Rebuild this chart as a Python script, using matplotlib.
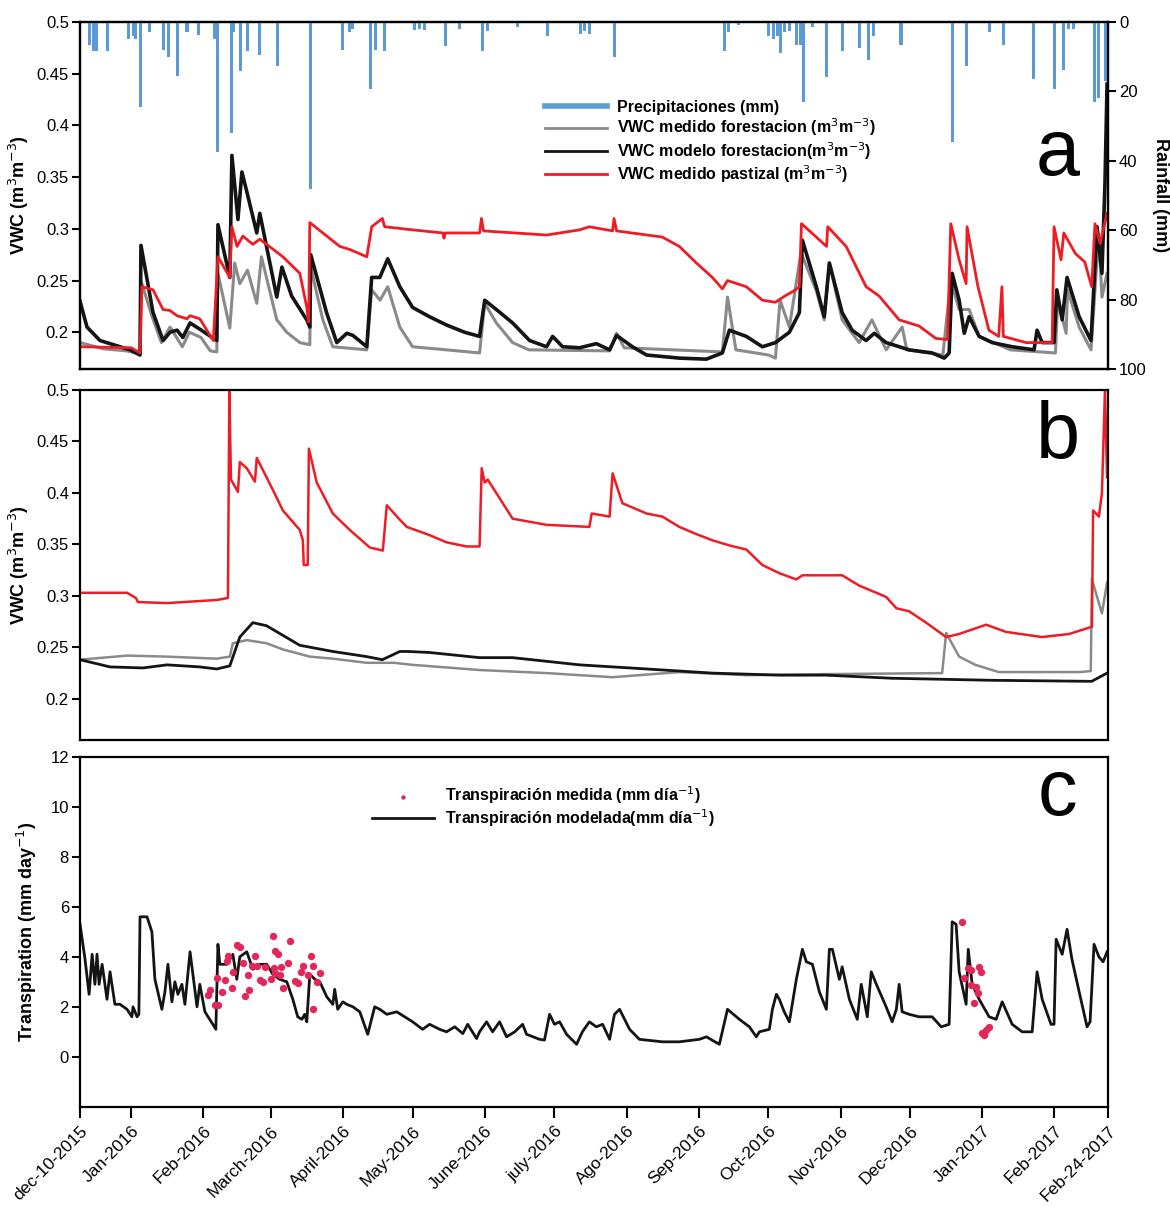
import datetime as dt
import numpy as np
import matplotlib
matplotlib.use("Agg")
import matplotlib.pyplot as plt
import matplotlib.dates as mdates
from matplotlib.lines import Line2D

plt.rcParams["font.family"] = ["Liberation Sans", "DejaVu Sans"]

# -----------------------------
# Data (day offsets from 10-Dec-2015)
# -----------------------------
start = dt.date(2015, 12, 10)

rain = [(4, 6.5), (6, 8.5), (7, 8.5), (12, 8.5), (21, 5), (23, 4), (24, 5), (26, 24.5),
        (30, 3), (36, 8), (38, 10), (42, 15.6), (46, 3), (51, 3.7), (58, 5), (59, 37.5),
        (65, 32), (66, 3), (69, 14), (72, 8.5), (77, 9.4), (85, 12.7), (99, 48), (113, 8),
        (116, 3), (117, 2), (125, 19.4), (127, 8), (131, 8.5), (144, 2.3), (146, 2),
        (148, 2.3), (157, 7), (163, 2), (173, 8.5), (175, 2.5), (188, 1.5), (201, 4),
        (215, 3.5), (217, 2.5), (219, 3.5), (230, 10), (277, 8.5), (279, 3), (283, 1),
        (296, 4), (298, 5), (300, 4), (301, 9), (303, 3), (305, 2.5), (308, 6.5), (310, 6.5),
        (311, 23), (315, 1.5), (321, 16), (328, 8.5), (335, 7.5), (339, 11), (341, 4),
        (353, 6.5), (375, 34.5), (381, 12.7), (391, 3), (397, 6.5), (410, 16.5), (419, 19.4),
        (423, 13.7), (425, 2), (427, 2), (436, 23), (438, 22), (441, 17)]

a_medido_forest = [(0, 0.19), (10, 0.184), (20, 0.182), (25.8, 0.179), (26.2, 0.25), (31, 0.215),
                   (35, 0.19), (38.7, 0.205), (44, 0.186), (47, 0.2), (52, 0.195), (56, 0.182),
                   (58.8, 0.181), (59.3, 0.257), (64.4, 0.204), (66.5, 0.267), (68.7, 0.247),
                   (72, 0.26), (76, 0.228), (78, 0.273), (84.6, 0.212), (88.9, 0.2), (94.5, 0.19),
                   (98.8, 0.188), (99.2, 0.263), (104.4, 0.212), (108.7, 0.186), (123.3, 0.183),
                   (125.4, 0.241), (129, 0.231), (132.3, 0.244), (137.5, 0.205), (143, 0.186),
                   (157.6, 0.183), (171.8, 0.18), (174, 0.228), (179, 0.209), (186, 0.19),
                   (193, 0.183), (227.7, 0.182), (230.7, 0.199), (234, 0.185), (276.2, 0.181),
                   (278.4, 0.234), (282, 0.183), (296, 0.178), (299, 0.175), (301, 0.231),
                   (305, 0.205), (310, 0.277), (316.6, 0.24), (320, 0.212), (322.2, 0.267),
                   (327.7, 0.212), (335, 0.19), (340.5, 0.212), (346.6, 0.183), (353.5, 0.205),
                   (355.5, 0.183), (371, 0.178), (374.4, 0.25), (378, 0.222), (382.3, 0.222),
                   (386.6, 0.196), (400, 0.183), (419.4, 0.18), (420.4, 0.231), (424, 0.199),
                   (424.6, 0.241), (429.6, 0.205), (434.7, 0.183), (438, 0.295), (439.4, 0.234),
                   (441.6, 0.257)]

a_modelo_forest = [(0, 0.23), (3, 0.205), (8.6, 0.192), (21.5, 0.183), (25.8, 0.178), (26.2, 0.284),
                   (31.4, 0.219), (35.7, 0.192), (38.7, 0.2), (41.7, 0.202), (44.2, 0.195),
                   (47.3, 0.209), (51.5, 0.203), (58.8, 0.192), (59.3, 0.304), (64.4, 0.253),
                   (65.3, 0.371), (67.9, 0.309), (69.6, 0.355), (71.7, 0.336), (76, 0.296),
                   (77.3, 0.315), (84.6, 0.234), (86.8, 0.263), (91, 0.235), (97.5, 0.212),
                   (98.8, 0.205), (99.2, 0.275), (106, 0.219), (110.4, 0.19), (114.7, 0.199),
                   (117.3, 0.197), (123.3, 0.186), (125.4, 0.253), (128.9, 0.253), (132.3, 0.271),
                   (137.5, 0.244), (143, 0.224), (150.3, 0.215), (157.6, 0.207), (165.4, 0.2),
                   (171.8, 0.196), (174, 0.231), (179, 0.222), (186, 0.209), (193.3, 0.192),
                   (200.6, 0.186), (203.2, 0.196), (207.5, 0.186), (214.8, 0.185), (222, 0.189),
                   (227.7, 0.183), (230.7, 0.197), (237.5, 0.186), (243.6, 0.178), (257.7, 0.175),
                   (269.3, 0.174), (276.2, 0.18), (279.2, 0.202), (286.5, 0.196), (293.4, 0.186),
                   (299, 0.19), (305, 0.2), (309.3, 0.219), (310.6, 0.289), (316.6, 0.244),
                   (320, 0.215), (322.2, 0.267), (327.7, 0.219), (332, 0.202), (338, 0.192),
                   (341.5, 0.199), (346.6, 0.19), (356.5, 0.183), (366.4, 0.18), (371.6, 0.175),
                   (373.7, 0.18), (375, 0.257), (378, 0.231), (380.2, 0.199), (382.3, 0.215),
                   (386.6, 0.196), (392.2, 0.19), (400.8, 0.186), (410.2, 0.183), (411.5, 0.202),
                   (413.7, 0.19), (418.8, 0.19), (420, 0.241), (422.3, 0.212), (424.4, 0.253),
                   (429.6, 0.215), (434.7, 0.192), (437.3, 0.302), (439.4, 0.257), (440.7, 0.344),
                   (441.6, 0.44)]

a_medido_pastizal = [(0, 0.186), (22, 0.185), (25.8, 0.18), (26.6, 0.244), (31.4, 0.241),
                     (35.7, 0.222), (38.7, 0.221), (41.7, 0.216), (46, 0.213), (47.3, 0.216),
                     (51.5, 0.213), (57.3, 0.192), (59.3, 0.273), (64.4, 0.253), (65.3, 0.302),
                     (67.5, 0.283), (70, 0.293), (74.3, 0.285), (77.3, 0.29), (87.2, 0.273),
                     (94.5, 0.257), (97.5, 0.224), (98.3, 0.21), (98.8, 0.306), (111.7, 0.283),
                     (116, 0.28), (123.3, 0.273), (125.4, 0.302), (130, 0.31), (131, 0.302),
                     (143, 0.299), (156, 0.296), (156.5, 0.291), (157, 0.296), (171.8, 0.296),
                     (172.6, 0.31), (173.5, 0.298), (200.6, 0.294), (214.8, 0.299), (219, 0.302),
                     (229, 0.298), (229.6, 0.31), (230.7, 0.298), (250.4, 0.292), (257.7, 0.283),
                     (265, 0.267), (271.9, 0.253), (276.2, 0.242), (278.4, 0.25), (286.5, 0.244),
                     (293.4, 0.231), (299, 0.229), (303, 0.235), (307, 0.24), (309.3, 0.244),
                     (310.2, 0.305), (321, 0.283), (321.5, 0.302), (329.4, 0.283), (338, 0.244),
                     (343.6, 0.235), (352.2, 0.212), (360.8, 0.206), (368, 0.194), (373, 0.193),
                     (374.4, 0.305), (378, 0.27), (381, 0.247), (381.4, 0.302), (386, 0.245),
                     (390.8, 0.202), (395, 0.196), (396.4, 0.244), (397, 0.196), (406.8, 0.19),
                     (418, 0.19), (418.8, 0.302), (421.8, 0.27), (423, 0.296), (428, 0.276),
                     (432, 0.268), (435, 0.244), (436.4, 0.305), (438.6, 0.286), (441.6, 0.315)]

b_medido_forest = [(0, 0.238), (20.2, 0.242), (37.4, 0.241), (58.8, 0.239), (64.4, 0.241),
                   (65.7, 0.254), (71.7, 0.257), (80.2, 0.254), (87.2, 0.248), (98.8, 0.241),
                   (108.7, 0.239), (123.3, 0.235), (135, 0.235), (143, 0.233), (171.8, 0.228),
                   (200.6, 0.225), (229, 0.221), (257.7, 0.226), (286.5, 0.223), (320.8, 0.224),
                   (370.7, 0.225), (372.4, 0.264), (378, 0.241), (385, 0.233), (395, 0.226),
                   (430, 0.226), (434.6, 0.227), (435.1, 0.316), (439.4, 0.283), (441.6, 0.313)]

b_modelo_forest = [(0, 0.238), (12.9, 0.231), (27, 0.23), (37.4, 0.233), (51.5, 0.231),
                   (58.8, 0.229), (64.4, 0.232), (68.7, 0.26), (74.3, 0.274), (80.2, 0.271),
                   (94.5, 0.252), (108.7, 0.246), (123.3, 0.241), (130, 0.238), (137.5, 0.246),
                   (141, 0.246), (150.3, 0.245), (171.8, 0.24), (186, 0.24), (214.8, 0.233),
                   (243.6, 0.229), (271.9, 0.225), (300.7, 0.223), (320.8, 0.223), (349, 0.22),
                   (392, 0.218), (435, 0.217), (441.6, 0.225)]

b_medido_pastizal = [(0, 0.303), (20.2, 0.303), (24, 0.298), (24.9, 0.294), (37.4, 0.293),
                     (58.8, 0.296), (63.6, 0.298), (64.2, 0.5), (64.9, 0.413), (67.9, 0.401),
                     (68.7, 0.43), (71.7, 0.424), (75.2, 0.411), (76, 0.434), (82.9, 0.403),
                     (87.2, 0.383), (94.5, 0.364), (95.8, 0.354), (96.2, 0.33), (97.9, 0.33),
                     (98.4, 0.443), (101.8, 0.41), (108.7, 0.38), (116, 0.364), (124.6, 0.347),
                     (130.2, 0.344), (131.9, 0.388), (137.5, 0.374), (140.5, 0.367), (150.3, 0.359),
                     (157.6, 0.352), (166.2, 0.348), (171.8, 0.348), (172.7, 0.424), (174, 0.41),
                     (175.3, 0.413), (186, 0.375), (200.6, 0.369), (219, 0.367), (220, 0.38),
                     (227.7, 0.377), (229, 0.419), (233.2, 0.39), (243.6, 0.38), (250.4, 0.377),
                     (257.7, 0.367), (265, 0.36), (271.9, 0.354), (279.2, 0.349), (286.5, 0.345),
                     (293.4, 0.33), (300.7, 0.322), (308, 0.316), (310.6, 0.32), (327.7, 0.32),
                     (335, 0.31), (346.6, 0.299), (351, 0.288), (356.5, 0.285), (363.8, 0.274),
                     (372.4, 0.26), (378, 0.263), (389.6, 0.272), (398.2, 0.265), (413.7, 0.26),
                     (425.3, 0.263), (435.1, 0.27), (435.6, 0.383), (438.1, 0.377), (439.4, 0.4),
                     (440.7, 0.5), (441.6, 0.415)]

c_modelada = [(0, 5.3), (2.1, 3.94), (3.9, 2.5), (5.2, 4.1), (6.4, 2.9), (7.3, 4.1), (8.2, 2.9),
              (9.5, 3.7), (11.6, 2.3), (12.9, 3.4), (15, 2.1), (17.2, 2.1), (20.2, 1.9), (22.3, 1.6),
              (22.8, 2.0), (24.5, 1.6), (25.3, 1.7), (25.8, 5.6), (28.8, 5.6), (30.9, 5.0),
              (32.2, 3.1), (35.2, 1.9), (36.5, 2.6), (37.8, 3.7), (39.5, 2.2), (40.8, 3.0),
              (42.1, 2.5), (43.8, 2.9), (45.1, 2.1), (47.3, 4.2), (50.3, 2.0), (51.5, 2.9),
              (53.7, 1.8), (57.1, 1.3), (58.4, 1.1), (59.3, 4.5), (60.1, 3.7), (63.1, 3.7),
              (65.7, 4.1), (67.4, 3.1), (68.7, 4.0), (71.7, 4.2), (74.3, 3.5), (77.3, 3.7),
              (80.3, 3.7), (82.9, 3.3), (85.9, 3.1), (88.9, 3.0), (91.5, 2.3), (93.6, 1.6),
              (95.4, 1.5), (96.6, 1.7), (97.5, 1.4), (98.8, 3.3), (101, 3.1), (103.1, 3.0),
              (106.1, 2.4), (108.7, 2.1), (109.5, 2.7), (110.8, 1.9), (113, 2.2), (114.7, 2.1),
              (117.3, 2.0), (120.3, 1.8), (123.7, 0.9), (126.7, 2.0), (128.9, 1.9), (131.9, 1.7),
              (136.2, 1.8), (143, 1.4), (147.3, 1.1), (150.3, 1.3), (154.6, 1.1), (157.6, 1.0),
              (161.1, 1.2), (164.6, 0.93), (166.7, 1.3), (170.5, 0.73), (171.8, 1.0), (174.8, 1.4),
              (177.4, 1.0), (180.4, 1.4), (183.4, 0.8), (186.9, 1.0), (190.3, 1.3), (192, 0.9),
              (197.6, 0.7), (199.7, 0.67), (201.9, 1.7), (204, 1.3), (206.2, 1.4), (209.2, 0.9),
              (213.5, 0.5), (216, 1.0), (219, 1.4), (222, 1.2), (224.7, 1.3), (227.7, 0.7),
              (229.8, 1.7), (232, 1.9), (236.3, 1.1), (240.5, 0.7), (250.4, 0.6), (257.7, 0.6),
              (266.3, 0.7), (269.3, 0.8), (274.9, 0.5), (278.4, 1.9), (283.5, 1.5), (287.8, 1.2),
              (290.8, 0.8), (292.1, 1.0), (296.4, 1.1), (297.7, 1.9), (299.4, 2.5), (300.7, 2.3),
              (302.8, 1.8), (305, 1.4), (308, 3.1), (310.6, 4.3), (312.3, 3.8), (314.9, 3.7),
              (317.9, 2.6), (320.9, 1.9), (322.2, 4.3), (323.5, 4.3), (326.5, 3.1), (327.7, 3.6),
              (330.8, 2.3), (334.2, 1.5), (335.9, 2.9), (338.5, 1.6), (340.2, 3.4), (342.4, 2.9),
              (346.6, 2.0), (349.2, 1.4), (351, 1.9), (352.2, 2.9), (353.5, 1.8), (356.5, 1.7),
              (360.8, 1.6), (366.4, 1.6), (370.3, 1.2), (373.7, 1.3), (375, 5.4), (376.7, 5.3),
              (378, 3.4), (381, 2.1), (381.9, 4.3), (383.6, 2.9), (386.6, 2.3), (390.9, 1.6),
              (393.9, 1.5), (396.5, 2.2), (400.8, 1.3), (405.1, 1.0), (409.4, 1.0), (411.5, 3.4),
              (413.7, 2.3), (417.5, 1.3), (418.8, 1.3), (419.7, 4.7), (422.3, 4.1), (424.4, 5.1),
              (426.5, 3.9), (429.6, 2.6), (433, 1.2), (434.3, 1.4), (436, 4.5), (438.1, 4.0),
              (439.9, 3.8), (441.6, 4.2)]

c_medida = [(83.0, 4.82), (90.2, 4.65), (67.3, 4.49), (68.7, 4.38), (83.8, 4.24), (85.2, 4.11),
            (63.7, 4.02), (75.2, 4.02), (99.2, 4.02), (63.0, 3.82), (70.1, 3.75), (73.8, 3.65),
            (75.9, 3.65), (79.5, 3.61), (83.3, 3.55), (86.6, 3.61), (89.5, 3.75), (95.9, 3.65),
            (100.2, 3.65), (65.9, 3.41), (72.3, 3.28), (83.8, 3.35), (85.9, 3.28), (95.2, 3.41),
            (98.1, 3.28), (103.1, 3.35), (58.7, 3.14), (62.3, 3.08), (77.3, 3.08), (78.7, 2.98),
            (82.3, 3.12), (92.4, 3.04), (93.8, 2.94), (101.7, 3.01), (65.2, 2.77), (72.5, 2.68),
            (55.8, 2.68), (60.9, 2.61), (87.3, 2.74), (70.9, 2.45), (55.1, 2.48), (58.0, 2.08),
            (59.4, 2.08), (100.2, 1.92),
            (379.4, 5.38), (381.6, 3.55), (383.0, 3.48), (386.6, 3.61), (387.3, 3.41),
            (380.1, 3.14), (383.0, 2.88), (385.2, 2.81), (385.9, 2.54), (384.5, 2.14),
            (389.5, 1.07), (388.7, 0.87), (390.9, 1.2), (388.0, 0.94)]

tick_dates = [dt.date(2015, 12, 10), dt.date(2016, 1, 1), dt.date(2016, 2, 1), dt.date(2016, 3, 1),
              dt.date(2016, 4, 1), dt.date(2016, 5, 1), dt.date(2016, 6, 1), dt.date(2016, 7, 1),
              dt.date(2016, 8, 1), dt.date(2016, 9, 1), dt.date(2016, 10, 1), dt.date(2016, 11, 1),
              dt.date(2016, 12, 1), dt.date(2017, 1, 1), dt.date(2017, 2, 1), dt.date(2017, 2, 24)]
tick_labels = ["dec-10-2015", "Jan-2016", "Feb-2016", "March-2016", "April-2016", "May-2016",
               "June-2016", "july-2016", "Ago-2016", "Sep-2016", "Oct-2016", "Nov-2016",
               "Dec-2016", "Jan-2017", "Feb-2017", "Feb-24-2017"]

# -----------------------------
# Helpers
# -----------------------------
t0 = mdates.date2num(start)


def xy(pairs):
    arr = np.array(pairs, dtype=float)
    return t0 + arr[:, 0], arr[:, 1]


GRAY = "#8a8a8a"
BLACK = "#141414"
RED = "#ee1c25"
BLUE = "#5b9bd5"
PINK = "#e3275a"

xmin = t0
xmax = mdates.date2num(dt.date(2017, 2, 24))


def style(ax, yticks, ylabels):
    for s in ax.spines.values():
        s.set_linewidth(1.6)
    ax.set_xlim(xmin, xmax)
    ax.set_yticks(yticks)
    ax.set_yticklabels(ylabels)
    ax.tick_params(axis="y", direction="out", length=6, width=1.5, labelsize=12, pad=2)
    ax.tick_params(axis="x", bottom=False, labelbottom=False)


fig = plt.figure(figsize=(11.7, 12.07), dpi=100)
ax_a = fig.add_axes([0.0684, 0.6943, 0.8786, 0.2875])
ax_b = fig.add_axes([0.0684, 0.3869, 0.8786, 0.2900])
ax_c = fig.add_axes([0.0684, 0.0830, 0.8786, 0.2900])

vwc_ticks = [0.2, 0.25, 0.3, 0.35, 0.4, 0.45, 0.5]
vwc_labels = ["0.2", "0.25", "0.3", "0.35", "0.4", "0.45", "0.5"]

# -----------------------------
# Panel a
# -----------------------------
x, y = xy(a_medido_forest)
ax_a.plot(x, y, color=GRAY, lw=2.2)
x, y = xy(a_modelo_forest)
ax_a.plot(x, y, color=BLACK, lw=2.6)
x, y = xy(a_medido_pastizal)
ax_a.plot(x, y, color=RED, lw=2.0)
ax_a.set_ylim(0.1645, 0.5)
style(ax_a, vwc_ticks, vwc_labels)
ax_a.set_ylabel(r"VWC (m$^{3}$m$^{-3}$)", fontsize=13, fontweight="bold", labelpad=4)

ax_r = ax_a.twinx()
x, y = xy(rain)
ax_r.bar(x, y, width=1.3, color=BLUE, align="center")
ax_r.set_ylim(100, 0)
ax_r.set_xlim(xmin, xmax)
ax_r.set_yticks([0, 20, 40, 60, 80, 100])
ax_r.tick_params(axis="y", direction="out", length=6, width=1.5, labelsize=12, pad=2)
for s in ax_r.spines.values():
    s.set_linewidth(1.6)
ax_r.set_ylabel("Rainfall (mm)", fontsize=13, fontweight="bold", rotation=270, labelpad=16)

handles_a = [Line2D([], [], color=BLUE, lw=4),
             Line2D([], [], color=GRAY, lw=2),
             Line2D([], [], color=BLACK, lw=2),
             Line2D([], [], color=RED, lw=2)]
labels_a = ["Precipitaciones (mm)",
            r"VWC medido forestacion (m$^{3}$m$^{-3}$)",
            r"VWC modelo forestacion(m$^{3}$m$^{-3}$)",
            r"VWC medido pastizal (m$^{3}$m$^{-3}$)"]
ax_r.legend(handles_a, labels_a, loc="upper left", bbox_to_anchor=(0.452, 0.775),
            frameon=False, borderpad=0, borderaxespad=0, handlelength=3.9,
            handletextpad=0.6, labelspacing=0.1,
            prop={"size": 11.5, "weight": "bold"})
ax_a.text(0.951, 0.559, "a", transform=ax_a.transAxes, fontsize=57, ha="center", va="baseline")

# -----------------------------
# Panel b
# -----------------------------
x, y = xy(b_medido_forest)
ax_b.plot(x, y, color=GRAY, lw=1.8)
x, y = xy(b_modelo_forest)
ax_b.plot(x, y, color=BLACK, lw=2.0)
x, y = xy(b_medido_pastizal)
ax_b.plot(x, y, color=RED, lw=1.8)
ax_b.set_ylim(0.16, 0.5)
style(ax_b, vwc_ticks, vwc_labels)
ax_b.set_ylabel(r"VWC (m$^{3}$m$^{-3}$)", fontsize=13, fontweight="bold", labelpad=4)
ax_b.text(0.951, 0.806, "b", transform=ax_b.transAxes, fontsize=57, ha="center", va="baseline")

# -----------------------------
# Panel c
# -----------------------------
x, y = xy(c_modelada)
ax_c.plot(x, y, color=BLACK, lw=2.0, label=r"Transpiración modelada(mm día$^{-1}$)")
x, y = xy(c_medida)
ax_c.scatter(x, y, s=28, color=PINK, zorder=3, linewidths=0,
             label=r"Transpiración medida (mm día$^{-1}$)")
ax_c.set_ylim(-2, 12)
style(ax_c, [0, 2, 4, 6, 8, 10, 12], ["0", "2", "4", "6", "8", "10", "12"])
ax_c.set_ylabel(r"Transpiration (mm day$^{-1}$)", fontsize=13, fontweight="bold", labelpad=8)
ax_c.set_xticks([mdates.date2num(d) for d in tick_dates])
ax_c.set_xticklabels(tick_labels, rotation=45, ha="right", rotation_mode="anchor")
ax_c.tick_params(axis="x", bottom=True, labelbottom=True, direction="out", length=8,
                 width=1.5, labelsize=12.5, pad=4)
h, l = ax_c.get_legend_handles_labels()
ax_c.legend([h[1], h[0]], [l[1], l[0]], loc="upper left", bbox_to_anchor=(0.284, 0.92),
            frameon=False, borderpad=0, borderaxespad=0, handlelength=3.9,
            handletextpad=0.7, labelspacing=0.05, scatterpoints=1, markerscale=0.6,
            prop={"size": 11.5, "weight": "bold"})
ax_c.text(0.951, 0.834, "c", transform=ax_c.transAxes, fontsize=57, ha="center", va="baseline")

fig.savefig("out.png", dpi=100)
